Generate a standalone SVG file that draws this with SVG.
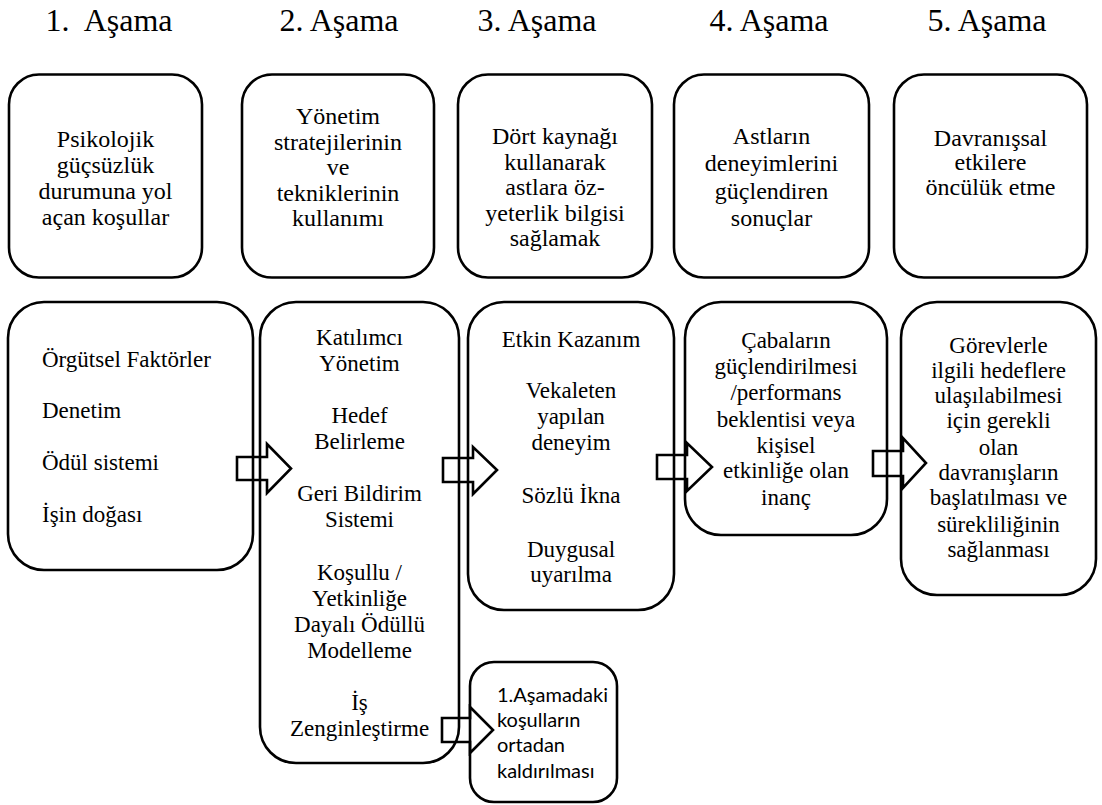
<svg xmlns="http://www.w3.org/2000/svg" width="1102" height="805" viewBox="0 0 1102 805">
  <style>
    .box { fill: none; stroke: #000; stroke-width: 2.6; }
    .arrow { fill: #fff; stroke: #000; stroke-width: 2.6; stroke-linejoin: miter; }
    .hdr { font-family: "Liberation Serif", "Times New Roman", serif; font-size: 32px; text-anchor: middle; white-space: pre; }
    .t { font-family: "Liberation Serif", "Times New Roman", serif; font-size: 24px; text-anchor: middle; }
    .b { font-family: "Liberation Serif", "Times New Roman", serif; font-size: 23px; text-anchor: middle; }
    .bl { font-family: "Liberation Serif", "Times New Roman", serif; font-size: 23px; }
    .s { font-family: Lato, "Liberation Sans", sans-serif; font-size: 20px; }
  </style>

  <!-- stage headings -->
  <g id="headers">
    <text class="hdr" x="109" y="31">1.  Aşama</text>
    <text class="hdr" x="339" y="31">2. Aşama</text>
    <text class="hdr" x="537" y="31">3. Aşama</text>
    <text class="hdr" x="769" y="31">4. Aşama</text>
    <text class="hdr" x="987" y="31">5. Aşama</text>
  </g>

  <!-- top row: stage descriptions -->
  <g id="stage1">
    <rect class="box" x="9" y="74.5" width="193" height="203" rx="30"/>
    <text class="t" x="105.5" y="146.5">Psikolojik</text>
    <text class="t" x="105.5" y="172.5">güçsüzlük</text>
    <text class="t" x="105.5" y="198.5">durumuna yol</text>
    <text class="t" x="105.5" y="224.5">açan koşullar</text>
  </g>
  <g id="stage2">
    <rect class="box" x="242" y="74.5" width="192" height="203" rx="30"/>
    <text class="t" x="338" y="124">Yönetim</text>
    <text class="t" x="338" y="149.5">stratejilerinin</text>
    <text class="t" x="338" y="175">ve</text>
    <text class="t" x="338" y="200.5">tekniklerinin</text>
    <text class="t" x="338" y="226">kullanımı</text>
  </g>
  <g id="stage3">
    <rect class="box" x="458" y="74.5" width="194" height="203" rx="30"/>
    <text class="t" x="555" y="144">Dört kaynağı</text>
    <text class="t" x="555" y="169.5">kullanarak</text>
    <text class="t" x="555" y="195">astlara öz-</text>
    <text class="t" x="555" y="220.5">yeterlik bilgisi</text>
    <text class="t" x="555" y="246">sağlamak</text>
  </g>
  <g id="stage4">
    <rect class="box" x="674" y="74.5" width="195" height="203" rx="30"/>
    <text class="t" x="771.5" y="143.5">Astların</text>
    <text class="t" x="771.5" y="171">deneyimlerini</text>
    <text class="t" x="771.5" y="198.5">güçlendiren</text>
    <text class="t" x="771.5" y="226">sonuçlar</text>
  </g>
  <g id="stage5">
    <rect class="box" x="894" y="74.5" width="193" height="203" rx="30"/>
    <text class="t" x="990.5" y="145.5">Davranışsal</text>
    <text class="t" x="990.5" y="170">etkilere</text>
    <text class="t" x="990.5" y="194.5">öncülük etme</text>
  </g>

  <!-- block arrows between the lower boxes -->
  <g id="connectors">
    <path class="arrow" d="M237,457 H267 V444 L291,468.5 L267,493 V480 H237 Z"/>
    <path class="arrow" d="M443,458 H473 V447 L497,470 L473,494 V482 H443 Z"/>
    <path class="arrow" d="M657,455 H687 V443 L712,467 L687,491 V479 H657 Z"/>
    <path class="arrow" d="M873,451 H903 V438 L926,463 L903,488 V476 H873 Z"/>
    <path class="arrow" d="M442,718 H470 V707 L493,730 L470,753 V742 H442 Z"/>
  </g>

  <!-- bottom row: contents of each stage -->
  <g id="factors">
    <rect class="box" x="8" y="302" width="245" height="268" rx="36"/>
    <text class="bl" x="42" y="367">Örgütsel Faktörler</text>
    <text class="bl" x="42" y="418">Denetim</text>
    <text class="bl" x="42" y="470">Ödül sistemi</text>
    <text class="bl" x="42" y="522">İşin doğası</text>
  </g>
  <g id="strategies">
    <rect class="box" x="260" y="302" width="199" height="461" rx="36"/>
    <text class="b" x="359.5" y="345">Katılımcı</text>
    <text class="b" x="359.5" y="371">Yönetim</text>
    <text class="b" x="359.5" y="423">Hedef</text>
    <text class="b" x="359.5" y="449">Belirleme</text>
    <text class="b" x="359.5" y="501">Geri Bildirim</text>
    <text class="b" x="359.5" y="527">Sistemi</text>
    <text class="b" x="359.5" y="580">Koşullu /</text>
    <text class="b" x="359.5" y="606">Yetkinliğe</text>
    <text class="b" x="359.5" y="632">Dayalı Ödüllü</text>
    <text class="b" x="359.5" y="658">Modelleme</text>
    <text class="b" x="359.5" y="710">İş</text>
    <text class="b" x="359.5" y="736">Zenginleştirme</text>
  </g>
  <g id="sources">
    <rect class="box" x="468" y="302" width="206" height="308" rx="36"/>
    <text class="b" x="571" y="347">Etkin Kazanım</text>
    <text class="b" x="571" y="398">Vekaleten</text>
    <text class="b" x="571" y="424">yapılan</text>
    <text class="b" x="571" y="450">deneyim</text>
    <text class="b" x="571" y="503">Sözlü İkna</text>
    <text class="b" x="571" y="557">Duygusal</text>
    <text class="b" x="571" y="582">uyarılma</text>
  </g>
  <g id="outcomes">
    <rect class="box" x="685" y="302" width="202" height="233" rx="36"/>
    <text class="b" x="786" y="348">Çabaların</text>
    <text class="b" x="786" y="374">güçlendirilmesi</text>
    <text class="b" x="786" y="400">/performans</text>
    <text class="b" x="786" y="427">beklentisi veya</text>
    <text class="b" x="786" y="453">kişisel</text>
    <text class="b" x="786" y="478">etkinliğe olan</text>
    <text class="b" x="786" y="505">inanç</text>
  </g>
  <g id="behaviour">
    <rect class="box" x="901" y="302" width="195" height="293" rx="36"/>
    <text class="b" x="998.5" y="353">Görevlerle</text>
    <text class="b" x="998.5" y="378">ilgili hedeflere</text>
    <text class="b" x="998.5" y="403">ulaşılabilmesi</text>
    <text class="b" x="998.5" y="428">için gerekli</text>
    <text class="b" x="998.5" y="455">olan</text>
    <text class="b" x="998.5" y="480">davranışların</text>
    <text class="b" x="998.5" y="505">başlatılması ve</text>
    <text class="b" x="998.5" y="532">sürekliliğinin</text>
    <text class="b" x="998.5" y="557">sağlanması</text>
  </g>
  <g id="removal">
    <rect class="box" x="470" y="662" width="147" height="140" rx="24"/>
    <text class="s" x="497" y="702">1.Aşamadaki</text>
    <text class="s" x="497" y="727">koşulların</text>
    <text class="s" x="497" y="752">ortadan</text>
    <text class="s" x="497" y="778">kaldırılması</text>
  </g>
</svg>
